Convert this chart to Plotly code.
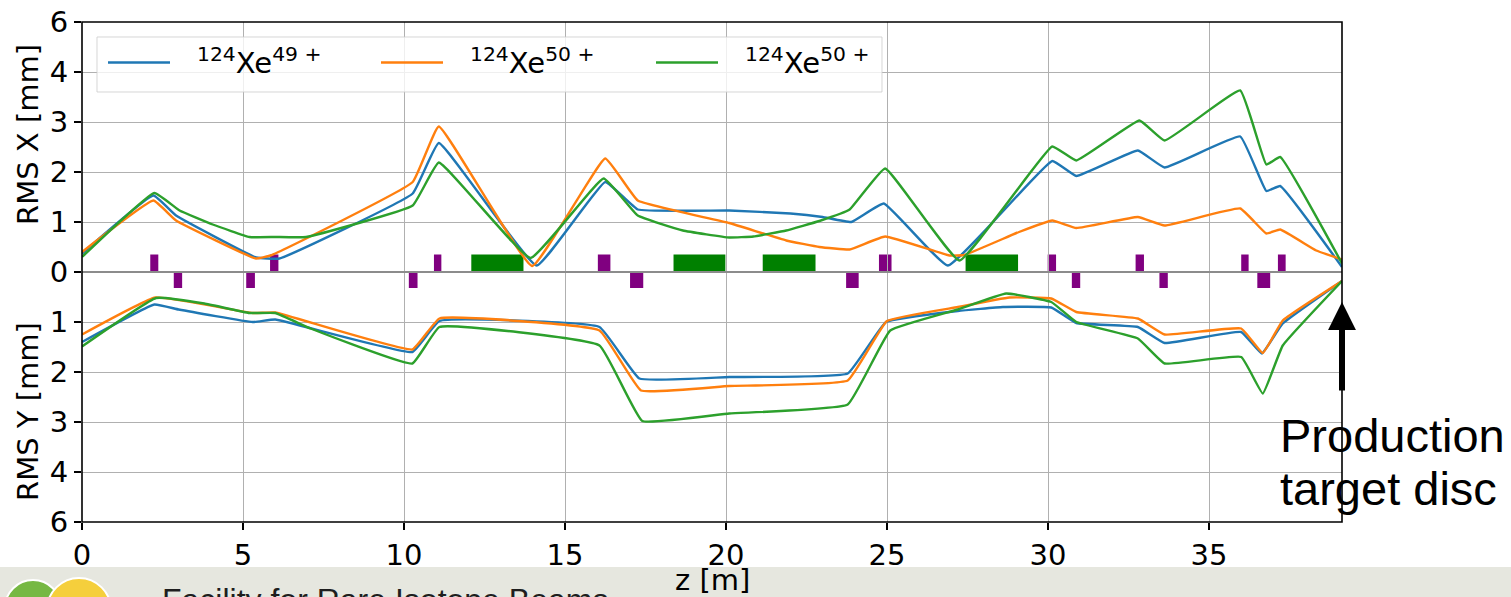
import plotly.graph_objects as go

# ---------------------------------------------------------------- data
# RMS X envelope [mm] vs. z [m]
z_x_49 = [0.0, 2.22, 2.92, 5.41, 6.13, 10.27, 11.08, 14.12, 16.25, 17.26, 20.1, 22.0, 23.0,
          23.89, 24.9, 26.89, 30.13, 30.88, 32.79, 33.62, 35.97, 36.78, 37.21, 39.13]
rmsx_49 = [0.37, 1.53, 1.13, 0.29, 0.27, 1.57, 2.58, 0.13, 1.80, 1.25, 1.23, 1.17, 1.10,
           1.00, 1.37, 0.13, 2.22, 1.92, 2.43, 2.09, 2.71, 1.62, 1.72, 0.10]

z_x_50a = [0.0, 2.22, 2.92, 5.40, 5.85, 10.27, 11.08, 13.98, 16.25, 17.26, 20.1, 21.87, 22.9,
           23.84, 24.94, 26.94, 27.4, 29.1, 30.13, 30.88, 32.79, 33.62, 35.97, 36.78, 37.21,
           38.33, 39.13]
rmsx_50a = [0.40, 1.43, 1.03, 0.27, 0.33, 1.80, 2.91, 0.12, 2.27, 1.43, 0.98, 0.63, 0.50,
            0.45, 0.71, 0.33, 0.34, 0.80, 1.03, 0.88, 1.10, 0.93, 1.27, 0.77, 0.85,
            0.43, 0.25]

z_x_50b = [0.0, 2.25, 3.03, 4.06, 5.2, 6.0, 6.96, 10.27, 11.08, 13.93, 16.2, 17.26, 18.66,
           20.1, 20.85, 21.87, 22.9, 23.84, 24.94, 27.25, 30.13, 30.88, 32.84, 33.62, 35.97,
           36.78, 37.21, 39.13]
rmsx_50b = [0.30, 1.58, 1.23, 0.95, 0.70, 0.70, 0.70, 1.33, 2.19, 0.28, 1.87, 1.13, 0.83,
            0.69, 0.71, 0.83, 1.02, 1.25, 2.07, 0.23, 2.51, 2.23, 3.03, 2.63, 3.63,
            2.15, 2.30, 0.17]

# RMS Y envelope [mm] vs. z [m]
z_y_49 = [0.0, 2.25, 3.0, 5.3, 6.0, 10.26, 11.1, 16.07, 17.31, 20.1, 23.78, 24.97, 27.2,
          28.6, 30.1, 30.88, 32.79, 33.62, 36.0, 36.64, 37.29, 39.13]
rmsy_49 = [1.40, 0.65, 0.75, 1.00, 0.95, 1.60, 0.98, 1.10, 2.13, 2.10, 2.03, 1.00, 0.78,
           0.70, 0.71, 1.02, 1.10, 1.42, 1.20, 1.63, 1.03, 0.18]

z_y_50a = [0.0, 2.28, 5.3, 6.0, 10.26, 11.1, 16.07, 17.36, 20.1, 23.78, 25.0, 27.2, 28.8,
           30.1, 30.88, 32.79, 33.62, 36.0, 36.67, 37.29, 39.13]
rmsy_50a = [1.25, 0.51, 0.82, 0.81, 1.55, 0.93, 1.17, 2.37, 2.28, 2.17, 0.98, 0.70, 0.51,
            0.53, 0.80, 0.93, 1.25, 1.13, 1.62, 0.97, 0.18]

z_y_50b = [0.0, 2.3, 3.8, 5.2, 6.0, 7.1, 10.26, 11.1, 16.07, 17.4, 20.1, 23.78, 25.1, 27.2,
           28.7, 30.1, 30.88, 32.79, 33.62, 36.0, 36.67, 37.29, 39.13]
rmsy_50b = [1.49, 0.52, 0.63, 0.82, 0.82, 1.13, 1.83, 1.10, 1.47, 2.98, 2.83, 2.65, 1.17,
            0.75, 0.43, 0.60, 1.00, 1.33, 1.83, 1.70, 2.43, 1.47, 0.18]

series_names = ["<sup>124</sup>Xe<sup>49 +</sup>",
                "<sup>124</sup>Xe<sup>50 +</sup>",
                "<sup>124</sup>Xe<sup>50 +</sup>"]

# beamline elements along z [m]
quad_up_start = [2.12, 5.84, 10.93, 16.02, 24.75, 29.99, 32.72, 36.00, 37.14]
quad_up_end = [2.37, 6.10, 11.16, 16.41, 25.14, 30.25, 32.98, 36.23, 37.38]
quad_dn_start = [2.85, 5.10, 10.15, 17.02, 23.73, 30.74, 33.46, 36.50]
quad_dn_end = [3.11, 5.37, 10.42, 17.43, 24.12, 31.00, 33.72, 36.90]
dipole_start = [12.09, 18.37, 21.14, 27.44]
dipole_end = [13.71, 19.98, 22.78, 29.07]

tick_vals = [0, 1, 2, 3, 4, 5]
tick_text_x = ["0", "1", "2", "3", "4", "6"]
tick_vals_y = [1, 2, 3, 4, 5]
tick_text_y = ["1", "2", "3", "4", "6"]
z_ticks = [0, 5, 10, 15, 20, 25, 30, 35]
z_max = 39.13

# ---------------------------------------------------------------- layout helpers
W, H = 1511, 597
ML, MR, MT, MB = 82, 169, 22, 75
PW = W - ML - MR
PH = H - MT - MB


def px(x):
    return (x - ML) / PW


def py(y):
    return (H - MB - y) / PH


COLORS = ["#1f77b4", "#ff7f0e", "#2ca02c"]
DJ = "DejaVu Sans"
AR = "Liberation Sans, Arial"
LW = 2.4
UP_H = 0.35
DN_H = 0.32

fig = go.Figure()

x_sets = [(z_x_49, rmsx_49), (z_x_50a, rmsx_50a), (z_x_50b, rmsx_50b)]
y_sets = [(z_y_49, rmsy_49), (z_y_50a, rmsy_50a), (z_y_50b, rmsy_50b)]

for (zz, vv), c, nm in zip(x_sets, COLORS, series_names):
    fig.add_trace(go.Scatter(x=zz, y=vv, xaxis="x2", yaxis="y", mode="lines",
                             line=dict(color=c, width=LW, shape="spline", smoothing=0.3),
                             name=nm, showlegend=False, cliponaxis=True))
for (zz, vv), c, nm in zip(y_sets, COLORS, series_names):
    fig.add_trace(go.Scatter(x=zz, y=vv, xaxis="x", yaxis="y2", mode="lines",
                             line=dict(color=c, width=LW, shape="spline", smoothing=0.3),
                             name=nm, showlegend=False, cliponaxis=True))

shapes = []
# quadrupoles and dipoles
for a, b in zip(quad_up_start, quad_up_end):
    shapes.append(dict(type="rect", xref="x2", yref="y", x0=a, x1=b, y0=0, y1=UP_H,
                       fillcolor="#800080", line=dict(width=0), layer="below"))
for a, b in zip(quad_dn_start, quad_dn_end):
    shapes.append(dict(type="rect", xref="x", yref="y2", x0=a, x1=b, y0=0.02, y1=DN_H,
                       fillcolor="#800080", line=dict(width=0), layer="below"))
for a, b in zip(dipole_start, dipole_end):
    shapes.append(dict(type="rect", xref="x2", yref="y", x0=a, x1=b, y0=0, y1=UP_H,
                       fillcolor="#008000", line=dict(width=0), layer="below"))

# zero line and frame
shapes.append(dict(type="line", xref="paper", yref="paper", x0=0, x1=1, y0=0.5, y1=0.5,
                   line=dict(color="#8c8c8c", width=2), layer="above"))
shapes.append(dict(type="rect", xref="paper", yref="paper", x0=0, x1=1, y0=0, y1=1,
                   line=dict(color="black", width=1.6), layer="above"))

# footer band and logo discs
shapes.append(dict(type="rect", xref="paper", yref="paper", x0=px(0), x1=px(W),
                   y0=py(H + 5), y1=py(567), fillcolor="#e6e7df", line=dict(width=0),
                   layer="below"))
shapes.append(dict(type="circle", xref="paper", yref="paper", x0=px(5), x1=px(61),
                   y0=py(636), y1=py(580), fillcolor="#76b843",
                   line=dict(color="white", width=2), layer="below"))
shapes.append(dict(type="circle", xref="paper", yref="paper", x0=px(47), x1=px(111),
                   y0=py(642), y1=py(578), fillcolor="#f5cf3c",
                   line=dict(color="white", width=2), layer="below"))

# legend box and sample lines
shapes.append(dict(type="rect", xref="paper", yref="paper", x0=px(97), x1=px(882),
                   y0=py(92), y1=py(37), fillcolor="rgba(255,255,255,0.8)",
                   line=dict(color="rgba(204,204,204,0.8)", width=1), layer="above"))
leg_line_x = [(108, 170), (381, 443), (656, 718)]
leg_text_x = [195, 468, 743]
for (a, b), c in zip(leg_line_x, COLORS):
    shapes.append(dict(type="line", xref="paper", yref="paper", x0=px(a), x1=px(b),
                       y0=py(62.5), y1=py(62.5), line=dict(color=c, width=LW),
                       layer="above"))

annotations = []
for tx, nm in zip(leg_text_x, series_names):
    annotations.append(dict(xref="paper", yref="paper", x=px(tx), y=py(81.5),
                            xanchor="left", yanchor="bottom", text=nm, showarrow=False,
                            font=dict(family=DJ, size=29, color="black")))

# axis titles
annotations.append(dict(xref="paper", yref="paper", x=px(28), y=py(135), text="RMS X [mm]",
                        textangle=-90, showarrow=False, xanchor="center", yanchor="middle",
                        font=dict(family=DJ, size=29, color="black")))
annotations.append(dict(xref="paper", yref="paper", x=px(28), y=py(412), text="RMS Y [mm]",
                        textangle=-90, showarrow=False, xanchor="center", yanchor="middle",
                        font=dict(family=DJ, size=29, color="black")))
annotations.append(dict(xref="paper", yref="paper", x=px(712), y=py(580), text="z [m]",
                        showarrow=False, xanchor="center", yanchor="middle",
                        font=dict(family=DJ, size=29, color="black")))

# target marker
annotations.append(dict(xref="x", yref="y2", x=z_max, y=0.60, axref="x", ayref="y2",
                        ax=z_max, ay=2.4, text="", showarrow=True, arrowhead=2,
                        arrowsize=0.93, arrowwidth=6, arrowcolor="black"))
annotations.append(dict(xref="paper", yref="paper", x=px(1278), y=py(435.5),
                        text="Production", showarrow=False, xanchor="left",
                        yanchor="middle", font=dict(family=AR, size=47, color="black")))
annotations.append(dict(xref="paper", yref="paper", x=px(1278), y=py(488.5),
                        text="target disc", showarrow=False, xanchor="left",
                        yanchor="middle", font=dict(family=AR, size=47, color="black")))

# footer caption
annotations.append(dict(xref="paper", yref="paper", x=px(160), y=py(600),
                        text="Facility for Rare Isotope Beams", showarrow=False,
                        xanchor="left", yanchor="middle",
                        font=dict(family=AR, size=32, color="#1e1e1e")))

axis_common = dict(showgrid=True, gridcolor="#b0b0b0", gridwidth=1, zeroline=False,
                   showline=False, automargin=False,
                   tickfont=dict(family=DJ, size=29, color="black"),
                   ticks="outside", ticklen=7, tickwidth=1.5, tickcolor="black")

fig.update_layout(
    width=W, height=H,
    margin=dict(l=ML, r=MR, t=MT, b=MB, pad=0, autoexpand=False),
    paper_bgcolor="white", plot_bgcolor="white",
    showlegend=False,
    xaxis=dict(domain=[0, 1], anchor="y2", range=[0, z_max], tickvals=z_ticks,
               **axis_common),
    xaxis2=dict(domain=[0, 1], anchor="y", matches="x", range=[0, z_max],
                tickvals=z_ticks, showticklabels=False, showgrid=True, automargin=False,
                gridcolor="#b0b0b0", gridwidth=1, zeroline=False, ticks=""),
    yaxis=dict(domain=[0.5, 1], anchor="x2", range=[0, 5], tickvals=tick_vals,
               ticktext=tick_text_x, **axis_common),
    yaxis2=dict(domain=[0, 0.5], anchor="x", range=[5, 0], tickvals=tick_vals_y,
                ticktext=tick_text_y, **axis_common),
    shapes=shapes,
    annotations=annotations,
)

fig.write_html("out.html")
